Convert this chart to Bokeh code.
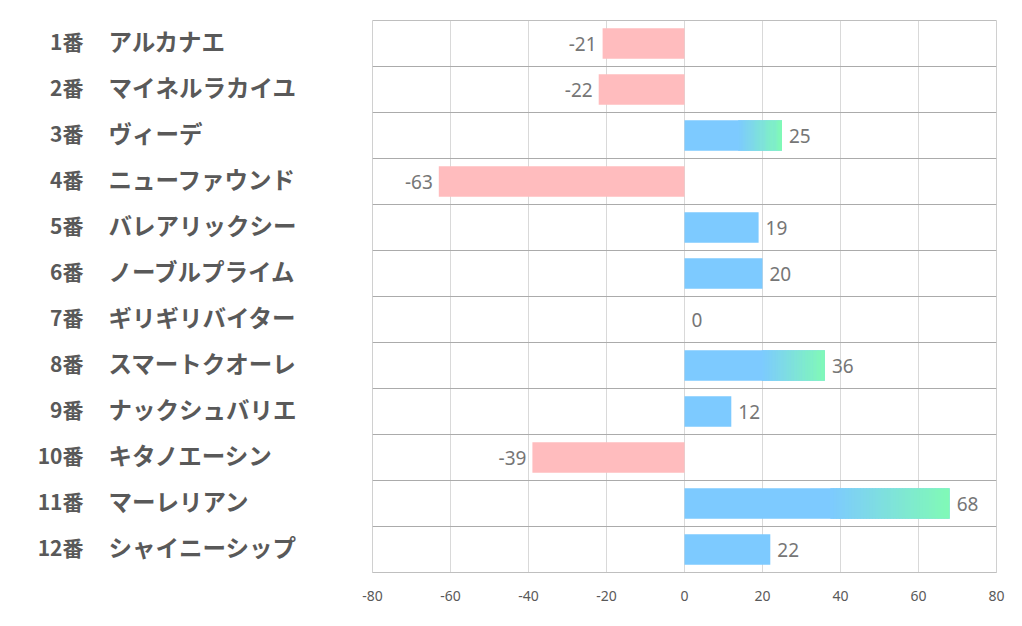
from bokeh.plotting import figure
from bokeh.layouts import row
from bokeh.models import Range1d, FixedTicker, ColumnDataSource, Span
from bokeh.core.properties import value
from bokeh.embed import file_html
from bokeh.resources import INLINE

numbers = ["1番", "2番", "3番", "4番", "5番", "6番", "7番", "8番", "9番", "10番", "11番", "12番"]
names = ["アルカナエ", "マイネルラカイユ", "ヴィーデ", "ニューファウンド", "バレアリックシー",
         "ノーブルプライム", "ギリギリバイター", "スマートクオーレ", "ナックシュバリエ",
         "キタノエーシン", "マーレリアン", "シャイニーシップ"]
values = [-21, -22, 25, -63, 19, 20, 0, 36, 12, -39, 68, 22]
x_ticks = [-80, -60, -40, -20, 0, 20, 40, 60, 80]

BLUE = (125, 202, 255)
GREEN = (128, 250, 182)
PINK = "#FFBCBE"
HIGHLIGHT_MIN = 25
GRAD_START = 0.55
N_SLICES = 40

n = len(values)
ys = [i + 0.5 for i in range(n)]
BAR_H = 0.66
TOP = 20
BOTTOM = 40
H = TOP + 552 + BOTTOM

# ---------- left label panel ----------
left = figure(width=356, height=H, x_range=Range1d(0, 356), y_range=Range1d(n, 0),
              output_backend="svg", toolbar_location=None,
              x_axis_location=None, y_axis_location=None,
              min_border_left=0, min_border_right=0, min_border_top=TOP, min_border_bottom=BOTTOM)
left.outline_line_color = None
left.xgrid.visible = False
left.ygrid.visible = False
lsrc = ColumnDataSource(dict(y=ys, num=numbers, name=names))
left.text(x=83, y="y", text="num", source=lsrc, text_align="right", text_baseline="middle",
          y_offset=-3, text_font=value("Noto Sans CJK JP"), text_font_style="bold",
          text_font_size="21px", text_color="#595959")
left.text(x=108, y="y", text="name", source=lsrc, text_align="left", text_baseline="middle",
          y_offset=-3, text_font=value("Noto Sans CJK JP"), text_font_style="bold",
          text_font_size="23.5px", text_color="#595959")

# ---------- chart ----------
p = figure(width=656, height=H, x_range=Range1d(-80, 80), y_range=Range1d(n, 0),
           output_backend="svg", toolbar_location=None, y_axis_location=None,
           min_border_left=16, min_border_right=16, min_border_top=TOP, min_border_bottom=BOTTOM)
p.outline_line_color = "#D0D0D0"

p.xgrid.ticker = FixedTicker(ticks=x_ticks)
p.xgrid.grid_line_color = "#D9D9D9"
p.ygrid.ticker = FixedTicker(ticks=list(range(0, n + 1)))
p.ygrid.grid_line_color = "#ABABAB"
p.add_layout(Span(location=0, dimension="width", line_color="#ABABAB", line_width=1))

p.xaxis.ticker = FixedTicker(ticks=x_ticks)
p.xaxis.major_label_overrides = {t: str(t) for t in x_ticks}
p.xaxis.axis_line_color = "#BFBFBF"
p.xaxis.major_tick_line_color = None
p.xaxis.minor_tick_line_color = None
p.xaxis.major_label_standoff = 12
p.xaxis.major_label_text_font = "Noto Sans"
p.xaxis.major_label_text_font_size = "14px"
p.xaxis.major_label_text_color = "#595959"

neg = [(y, v) for y, v in zip(ys, values) if v < 0]
pos = [(y, v) for y, v in zip(ys, values) if v >= 0]

p.hbar(y=[a for a, _ in neg], left=0, right=[b for _, b in neg], height=BAR_H,
       fill_color=PINK, line_color=None)
p.hbar(y=[a for a, _ in pos], left=0, right=[b for _, b in pos], height=BAR_H,
       fill_color="#%02X%02X%02X" % BLUE, line_color=None)

# gradient tails for highlighted bars
gy, gl, gr, gc = [], [], [], []
for y, v in pos:
    if v >= HIGHLIGHT_MIN:
        start = v * GRAD_START
        step = (v - start) / N_SLICES
        for k in range(N_SLICES):
            t = (k + 0.5) / N_SLICES
            c = tuple(round(BLUE[j] + (GREEN[j] - BLUE[j]) * t) for j in range(3))
            gy.append(y)
            gl.append(start + k * step)
            gr.append(min(v, start + (k + 1.3) * step))
            gc.append("#%02X%02X%02X" % c)
if gy:
    p.hbar(y=gy, left=gl, right=gr, height=BAR_H, fill_color=gc, line_color=None)

# value labels
p.text(x=[b for _, b in pos], y=[a for a, _ in pos], text=[str(b) for _, b in pos],
       x_offset=7, text_align="left", text_baseline="middle",
       text_font=value("Noto Sans"), text_font_size="19px", text_color="#767676")
p.text(x=[b for _, b in neg], y=[a for a, _ in neg], text=[str(b) for _, b in neg],
       x_offset=-6, text_align="right", text_baseline="middle",
       text_font=value("Noto Sans"), text_font_size="19px", text_color="#767676")

layout = row(left, p)
open("out.html", "w").write(file_html(layout, INLINE))
